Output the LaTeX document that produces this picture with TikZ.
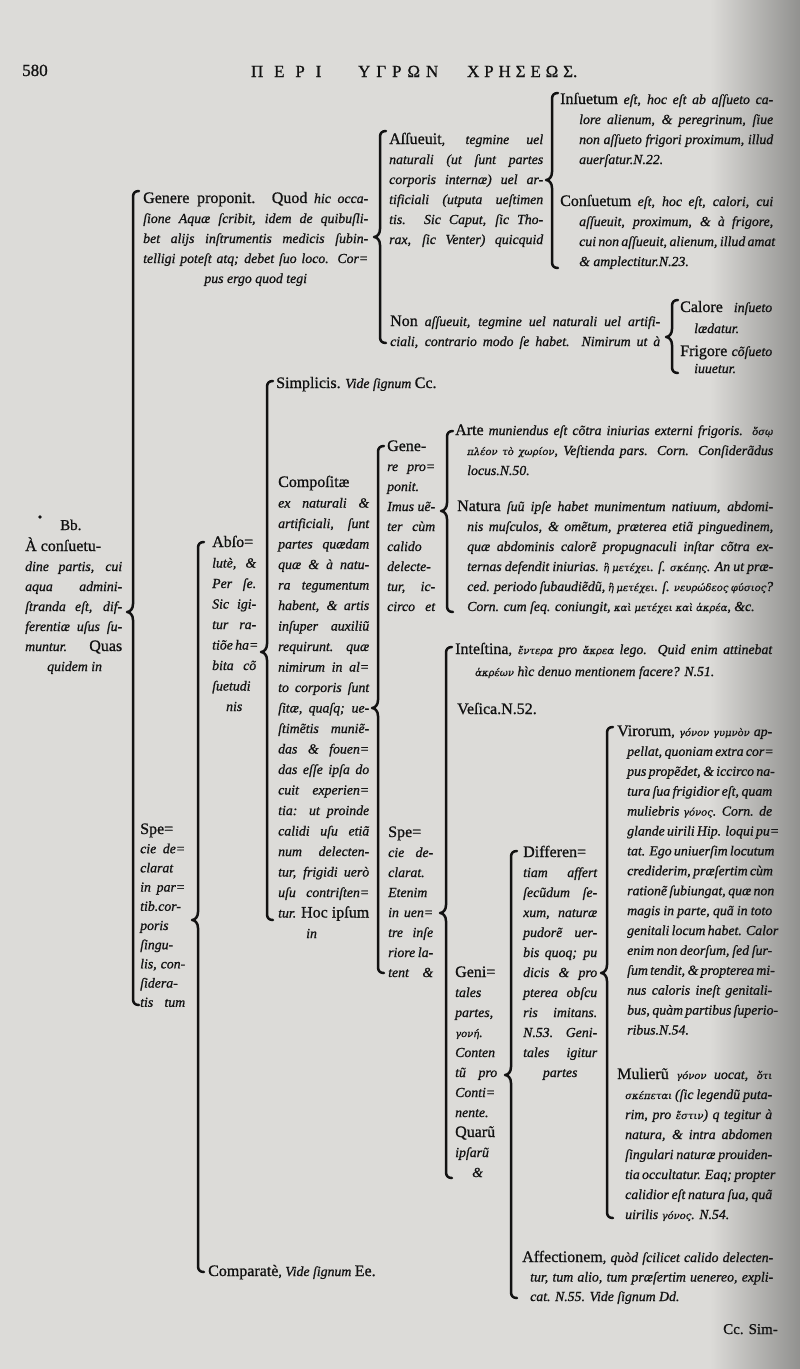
\documentclass[tikz,border=0pt]{standalone}
\usepackage{fontspec}
\setmainfont{Liberation Serif}[UprightFeatures={FakeBold=0.9},ItalicFeatures={FakeBold=0.9}]
\newfontfamily\gkfont{DejaVu Serif}[FakeBold=0.6]
\definecolor{paper}{RGB}{220,219,216}
\definecolor{edge}{RGB}{145,145,143}
\definecolor{ink}{RGB}{18,18,18}
\newcommand\up[1]{{\upshape\fontsize{16}{17}\selectfont #1}}
\newcommand\gk[1]{{\gkfont\fontsize{10}{12}\selectfont #1}}
\newcommand\blk[7]{%
  \foreach \tx [count=\i] in {#7}{%
    \ifnum\i=1 \def\ind{0}\else\def\ind{#4}\fi
    \node[txt] (#1\i) at ({#2+\ind},{#3+#6*(\i-1)}) {\makebox[\dimexpr #5pt-\ind pt\relax][s]{\tx}};
  }}
\newcommand\brk[4]{%
  \draw[brace] ({#1+6},#2) .. controls ({#1+2},#2) and (#1,{#2+2}) .. (#1,{#2+6})
   -- (#1,{#4-8}) .. controls (#1,{#4-3}) and ({#1-3},#4) .. ({#1-6},#4)
   .. controls ({#1-3},#4) and (#1,{#4+3}) .. (#1,{#4+8})
   -- (#1,{#3-6}) .. controls (#1,{#3-2}) and ({#1+2},#3) .. ({#1+6},#3);}
\tikzset{
  txt/.style={anchor=base west, inner sep=0pt, text=ink, font=\fontsize{13.8}{17}\selectfont\itshape},
  brace/.style={draw=ink, line width=2.5pt, line cap=round, line join=round},
  hd/.style={anchor=base west, inner sep=0pt, text=ink, font=\fontsize{17}{18}\selectfont}
}
\begin{document}
\begin{tikzpicture}[x=1pt,y=-1pt]
\useasboundingbox (0,0) rectangle (800,1369);
\fill[paper] (0,0) rectangle (800,1369);
\shade[left color=paper, right color=edge] (710,0) rectangle (800,1369);

% header
\node[hd] (hd580) at (22,76) {580};
\node[hd] (hdA) at (240,77) {\makebox[92pt]{Π\hfil Ε\hfil Ρ\hfil Ι}};
\node[hd] (hdB) at (352,77) {\makebox[92pt]{Υ\hfil Γ\hfil Ρ\hfil Ω\hfil Ν}};
\node[hd] (hdC) at (462,77) {\makebox[120pt]{Χ\hfil Ρ\hfil Η\hfil Σ\hfil Ε\hfil Ω\hfil Σ.}};

% braces
\brk{133}{191}{1005}{612}
\brk{380}{131}{343}{237}
\brk{552}{93}{268}{180}
\brk{672}{300}{373}{337}
\brk{198}{542}{1272}{920}
\brk{267}{381}{920}{652}
\brk{378}{446}{973}{708}
\brk{447}{431}{612}{511}
\brk{446}{647}{1178}{913}
\brk{511}{851}{1298}{1075}
\brk{607}{727}{1218}{973}

% Bb
\fill[ink] (40,517) circle (1.8pt);
\node[txt,font=\fontsize{15}{17}\selectfont] (bb) at (60,530) {Bb.};
\blk{acons}{25}{551}{0}{97}{20}{{\up{À conſuetu-}\hfill},{dine partis, cui},{aqua admini-},{ſtranda eſt, dif-},{ferentiæ uſus ſu-},{muntur. \up{Quas}},{\hspace*{22pt}quidem in\hfill}}

% Genere proponit (top)
\blk{gen}{143}{203}{0}{225}{20}{{\up{Genere proponit. Quod} hic occa-},{ſione Aquæ ſcribit, idem de quibuſli-},{bet alijs inſtrumentis medicis ſubin-},{telligi poteſt atq; debet ſuo loco. Cor=},{\hfill pus ergo quod tegi\hfill}}

\blk{assu}{389}{144}{0}{154}{20}{{\up{Aſſueuit}, tegmine uel},{naturali (ut ſunt partes},{corporis internæ) uel ar-},{tificiali (utputa ueſtimen},{tis. Sic Caput, ſic Tho-},{rax, ſic Venter) quicquid}}

\blk{ins}{560}{104}{19}{213}{20}{{\up{Inſuetum} eſt, hoc eſt ab aſſueto ca-},{lore alienum, \& peregrinum, ſiue},{non aſſueto frigori proximum, illud},{auerſatur.N.22.\hfill}}
\blk{cons}{560}{206}{19}{213}{20}{{\up{Conſuetum} eſt, hoc eſt, calori, cui},{aſſueuit, proximum, \& à frigore,},{cui non aſſueuit, alienum, illud amat},{\& amplectitur.N.23.\hfill}}

\blk{non}{390}{326}{0}{270}{20}{{\up{Non} aſſueuit, tegmine uel naturali uel artifi-},{ciali, contrario modo ſe habet. Nimirum ut à}}
\blk{cal}{680}{312}{14}{92}{21}{{\up{Calore} inſueto},{lædatur.\hfill}}
\blk{frig}{680}{356}{14}{92}{17}{{\up{Frigore} cõſueto},{iuuetur.\hfill}}

% Specie declarat (first)
\blk{spa}{140}{834}{0}{45}{19.2}{{\up{Spe=}},{cie de=},{clarat},{in par=},{tib.cor-},{poris},{ſingu-},{lis, con-},{ſidera-},{tis tum}}

% Absolute
\blk{abs}{212}{547}{0}{44}{20.5}{{\up{Abſo=}},{lutè, \&},{Per ſe.},{Sic igi-},{tur ra-},{tiõe ha=},{bita cõ},{ſuetudi},{\hfill nis\hfill}}
\node[txt] (simp) at (276,388) {\up{Simplicis.} Vide ſignum \up{Cc.}};
\node[txt] (comp) at (208,1276) {\up{Comparatè}, Vide ſignum \up{Ee.}};

% Compositae
\blk{cmp}{278}{487}{0}{91}{20.5}{{\up{Compoſitæ}\hfill},{ex naturali \&},{artificiali, ſunt},{partes quædam},{quæ \& à natu-},{ra tegumentum},{habent, \& artis},{inſuper auxiliũ},{requirunt. quæ},{nimirum in al=},{to corporis ſunt},{ſitæ, quaſq; ue-},{ſtimẽtis muniẽ-},{das \& fouen=},{das eſſe ipſa do},{cuit experien=},{tia: ut proinde},{calidi uſu etiã},{num delecten-},{tur, frigidi uerò},{uſu contriſten=},{tur. \up{Hoc ipſum}},{\hspace*{28pt}in\hfill}}

% Gene
\blk{gene}{387}{451}{0}{48}{20}{{\up{Gene-}},{re pro=},{ponit.},{Imus uẽ-},{ter cùm},{calido},{delecte-},{tur, ic-},{circo et}}
\blk{arte}{455}{435}{12}{318}{20}{{\up{Arte} muniendus eſt cõtra iniurias externi frigoris. \gk{ὅσῳ}},{\gk{πλέον τὸ χωρίον}, Veſtienda pars. Corn. Conſiderãdus},{locus.N.50.\hfill}}
\blk{nat}{457}{511}{10}{316}{20}{{\up{Natura} ſuũ ipſe habet munimentum natiuum, abdomi-},{nis muſculos, \& omẽtum, præterea etiã pinguedinem,},{quæ abdominis calorẽ propugnaculi inſtar cõtra ex-},{ternas defendit iniurias. \gk{ἢ μετέχει}. ſ. \gk{σκέπης}. An ut præ-},{ced. periodo ſubaudiẽdũ, \gk{ἢ μετέχει}. ſ. \gk{νευρώδεος φύσιος}?},{Corn. cum ſeq. coniungit, \gk{καὶ μετέχει καὶ ἀκρέα}, \&c.\hfill}}

% Specie declarat (second)
\blk{spb}{388}{837}{0}{45}{20}{{\up{Spe=}},{cie de-},{clarat.},{Etenim},{in uen=},{tre inſe},{riore la-},{tent \&}}
\blk{intest}{455}{654}{20}{317}{22}{{\up{Inteſtina}, \gk{ἔντερα} pro \gk{ἄκρεα} lego. Quid enim attinebat},{\gk{ἀκρέων} hìc denuo mentionem facere? N.51.\hfill}}
\node[txt] (vesica) at (457,714) {\up{Veſica.N.52.}};

% Genitales
\blk{geni}{455}{977}{0}{42}{20}{{\up{Geni=}},{tales},{partes,},{\gk{γονή}.},{Conten},{tũ pro},{Conti=},{nente.},{\up{Quarũ}},{ipſarũ},{\hspace*{17pt}\&}}
\blk{diff}{523}{857}{0}{74}{20}{{\up{Differen=}},{tiam affert},{ſecũdum ſe-},{xum, naturæ},{pudorẽ uer-},{bis quoq; pu},{dicis \& pro},{pterea obſcu},{ris imitans.},{N.53. Geni-},{tales igitur},{\hfill partes\hfill}}
\blk{aff}{522}{1262}{8}{251}{19.5}{{\up{Affectionem}, quòd ſcilicet calido delecten-},{tur, tum alio, tum præſertim uenereo, expli-},{cat. N.55. Vide ſignum Dd.\hfill}}

% Virorum / Mulierum
\blk{vir}{617}{736}{10}{155}{19.9}{{\up{Virorum}, \gk{γόνον γυμνὸν} ap-},{pellat, quoniam extra cor=},{pus propẽdet, \& iccirco na-},{tura ſua frigidior eſt, quam},{muliebris \gk{γόνος}. Corn. de},{glande uirili Hip. loqui pu=},{tat. Ego uniuerſim locutum},{crediderim, præſertim cùm},{rationẽ ſubiungat, quæ non},{magis in parte, quã in toto},{genitali locum habet. Calor},{enim non deorſum, ſed ſur-},{ſum tendit, \& propterea mi-},{nus caloris ineſt genitali-},{bus, quàm partibus ſuperio-},{ribus.N.54.\hfill}}
\blk{mul}{617}{1079}{8}{155}{20}{{\up{Mulierũ} \gk{γόνον} uocat, \gk{ὅτι}},{\gk{σκέπεται} (ſic legendũ puta-},{rim, pro \gk{ἔστιν}) q tegitur à},{natura, \& intra abdomen},{ſingulari naturæ prouiden-},{tia occultatur. Eaq; propter},{calidior eſt natura ſua, quã},{uirilis \gk{γόνος}. N.54.\hfill}}

\node[txt,font=\fontsize{15}{17}\selectfont] (catch) at (723,1334) {Cc. Sim-};
\end{tikzpicture}
\end{document}
